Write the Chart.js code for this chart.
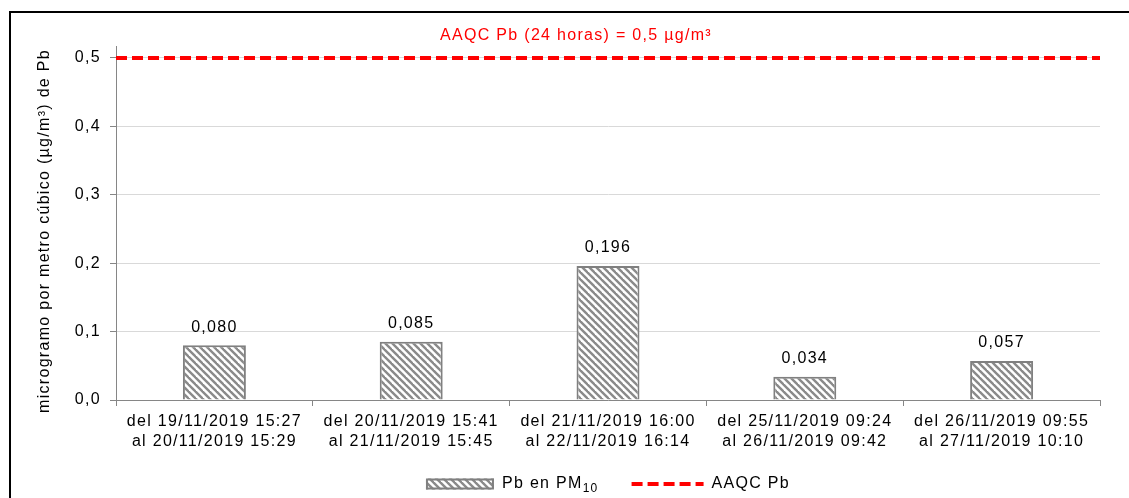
<!DOCTYPE html>
<html>
<head>
<meta charset="utf-8">
<script src="https://cdn.jsdelivr.net/npm/chart.js@4/dist/chart.umd.min.js"></script>
<style>
  html, body { margin: 0; padding: 0; background: #fff; overflow: hidden; width: 1129px; height: 498px; }
  #wrap { position: absolute; left: 0; top: 0; width: 1151px; height: 498px; }
</style>
</head>
<body>
<div id="wrap"><canvas id="c"></canvas></div>
<script>
// ---- data ----
const categories = [
  ["del 19/11/2019 15:27", "al 20/11/2019 15:29"],
  ["del 20/11/2019 15:41", "al 21/11/2019 15:45"],
  ["del 21/11/2019 16:00", "al 22/11/2019 16:14"],
  ["del 25/11/2019 09:24", "al 26/11/2019 09:42"],
  ["del 26/11/2019 09:55", "al 27/11/2019 10:10"]
];
const pbValues = [0.080, 0.085, 0.196, 0.034, 0.057];
const limitValues = [0.5, 0.5, 0.5, 0.5, 0.5];
const yTickValues = [0, 0.1, 0.2, 0.3, 0.4, 0.5];
const titleText = "AAQC Pb (24 horas) = 0,5 µg/m³";
const yTitleText = "microgramo por metro cúbico (µg/m³) de Pb";
const barLegend = ["Pb en PM", "10"];
const lineLegend = "AAQC Pb";

const FONT = "'Liberation Sans', Arial, sans-serif";
const SPACING = '1.3px';

function makeHatch() {
  const s = 7;
  const c = document.createElement('canvas');
  c.width = s; c.height = s;
  const g = c.getContext('2d');
  g.fillStyle = '#ffffff';
  g.fillRect(0, 0, s, s);
  g.strokeStyle = '#8a8a8a';
  g.lineWidth = 2.4;
  for (let k = -1; k <= 1; k++) {
    g.beginPath();
    g.moveTo(k * s - 1, -1);
    g.lineTo(k * s + s + 1, s + 1);
    g.stroke();
  }
  return g.createPattern(c, 'repeat');
}
const ctx0 = document.getElementById('c').getContext('2d');
const hatch = makeHatch();

const fmt = (v, d) => v.toFixed(d).replace('.', ',');

const spacingPlugin = {
  id: 'spacing',
  beforeInit(chart) { chart.ctx.letterSpacing = SPACING; },
  beforeLayout(chart) { chart.ctx.letterSpacing = SPACING; },
  beforeDraw(chart) { chart.ctx.letterSpacing = SPACING; }
};

const extrasPlugin = {
  id: 'extras',
  afterDatasetsDraw(chart) {
    const ctx = chart.ctx;
    const meta = chart.getDatasetMeta(1);
    ctx.save();
    ctx.letterSpacing = SPACING;
    ctx.fillStyle = '#000';
    ctx.font = '16px ' + FONT;
    ctx.textAlign = 'center';
    ctx.textBaseline = 'middle';
    meta.data.forEach((bar, i) => {
      ctx.fillText(fmt(pbValues[i], 3), bar.x, bar.y - 18);
    });
    ctx.restore();
  },
  afterDraw(chart) {
    const ctx = chart.ctx;
    const area = chart.chartArea;
    ctx.save();
    // frame
    ctx.strokeStyle = '#000';
    ctx.lineWidth = 2;
    ctx.beginPath();
    ctx.moveTo(10, 2000);
    ctx.lineTo(10, 12);
    ctx.lineTo(3000, 12);
    ctx.stroke();
    // title (centred on the frame)
    ctx.letterSpacing = SPACING;
    ctx.font = '16px ' + FONT;
    ctx.fillStyle = '#ff0000';
    ctx.textAlign = 'center';
    ctx.textBaseline = 'middle';
    ctx.fillText(titleText, 576, 36);
    // y axis title
    ctx.save();
    ctx.fillStyle = '#000';
    ctx.translate(45, 231);
    ctx.rotate(-Math.PI / 2);
    ctx.fillText(yTitleText, 0, 0);
    ctx.restore();
    // legend
    ctx.font = '16px ' + FONT;
    const subFont = '12px ' + FONT;
    const w1a = ctx.measureText(barLegend[0]).width;
    ctx.font = subFont;
    const w1b = ctx.measureText(barLegend[1]).width;
    ctx.font = '16px ' + FONT;
    const w2 = ctx.measureText(lineLegend).width;
    const boxW = 68, boxH = 11, gap = 8, itemGap = 33, lineW = 72;
    const total = boxW + gap + w1a + w1b + itemGap + lineW + gap + w2;
    let x = (area.left + area.right) / 2 - total / 2;
    const y = 484;
    ctx.fillStyle = hatch;
    ctx.fillRect(x, y - boxH / 2, boxW, boxH);
    ctx.strokeStyle = '#808080';
    ctx.lineWidth = 2;
    ctx.strokeRect(x + 1, y - boxH / 2 + 1, boxW - 2, boxH - 2);
    x += boxW + gap;
    ctx.fillStyle = '#000';
    ctx.textAlign = 'left';
    ctx.textBaseline = 'middle';
    ctx.fillText(barLegend[0], x, y);
    x += w1a;
    ctx.font = subFont;
    ctx.fillText(barLegend[1], x, y + 5);
    x += w1b + itemGap;
    ctx.strokeStyle = '#ff0000';
    ctx.lineWidth = 4;
    ctx.setLineDash([11, 5]);
    ctx.beginPath();
    ctx.moveTo(x, y);
    ctx.lineTo(x + lineW, y);
    ctx.stroke();
    ctx.setLineDash([]);
    x += lineW + gap;
    ctx.font = '16px ' + FONT;
    ctx.fillText(lineLegend, x, y);
    ctx.restore();
  }
};

Chart.defaults.font.family = FONT;
Chart.defaults.font.size = 16;
Chart.defaults.color = '#000';

new Chart(ctx0, {
  type: 'bar',
  data: {
    labels: categories,
    datasets: [
      {
        type: 'line',
        label: lineLegend,
        data: limitValues,
        xAxisID: 'x2',
        borderColor: '#ff0000',
        borderWidth: 4,
        borderDash: [11, 5],
        borderCapStyle: 'butt',
        pointRadius: 0,
        fill: false,
        order: 0
      },
      {
        type: 'bar',
        label: barLegend.join(''),
        data: pbValues,
        xAxisID: 'x',
        backgroundColor: hatch,
        borderColor: '#808080',
        borderWidth: 2,
        grouped: false,
        categoryPercentage: 0.32,
        barPercentage: 1,
        order: 1
      }
    ]
  },
  options: {
    responsive: true,
    maintainAspectRatio: false,
    animation: false,
    layout: { padding: { left: 0, right: 51, top: 46, bottom: 0 } },
    plugins: {
      legend: { display: false },
      tooltip: { enabled: false },
      title: { display: false }
    },
    scales: {
      x: {
        type: 'category',
        offset: true,
        grid: { display: true, drawOnChartArea: false, drawTicks: true, tickLength: 6, color: '#868686', offset: true },
        border: { display: true, color: '#868686', width: 1 },
        ticks: { padding: 6, font: { size: 16, lineHeight: 1.25 }, maxRotation: 0, autoSkip: false },
        afterFit(scale) { scale.height = 98; }
      },
      x2: {
        type: 'category',
        offset: false,
        display: false
      },
      y: {
        type: 'linear',
        min: 0,
        max: 0.5175,
        afterBuildTicks(scale) {
          scale.ticks = yTickValues.map(v => ({ value: v }));
        },
        ticks: {
          padding: 9,
          font: { size: 16 },
          callback: (v) => fmt(v, 1)
        },
        grid: { color: '#d9d9d9', lineWidth: 1, tickLength: 6, tickColor: '#868686', drawTicks: true },
        border: { display: true, color: '#868686', width: 1 },
        title: { display: false },
        afterFit(scale) { scale.width = 116; }
      }
    }
  },
  plugins: [spacingPlugin, extrasPlugin]
});
</script>
</body>
</html>
